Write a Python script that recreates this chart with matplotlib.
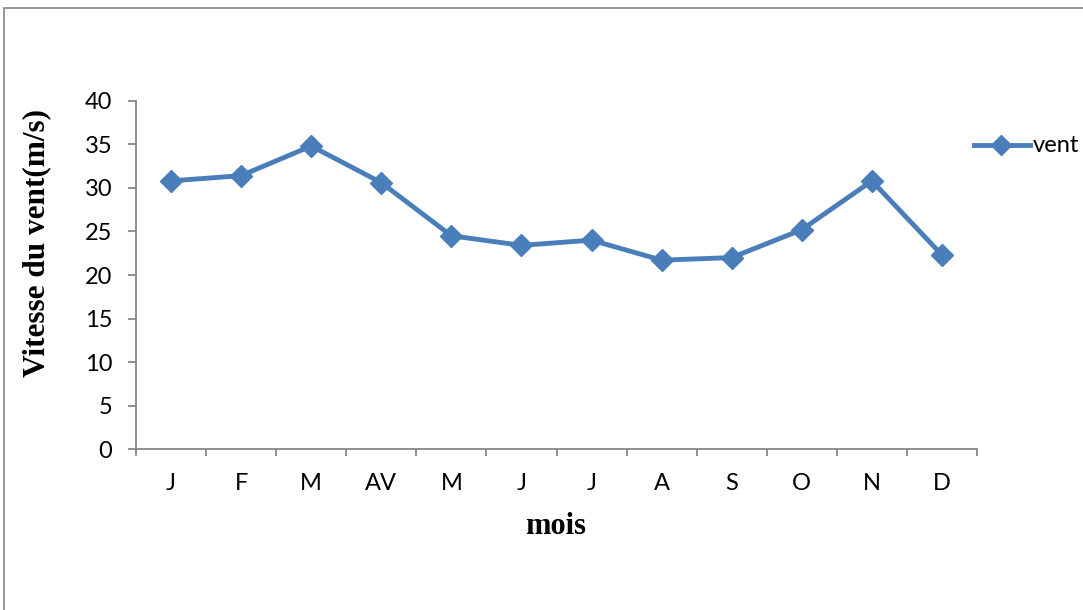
import matplotlib
matplotlib.use("Agg")
import matplotlib.pyplot as plt
from matplotlib.patches import Rectangle
from matplotlib.lines import Line2D

months = ["J", "F", "M", "AV", "M", "J", "J", "A", "S", "O", "N", "D"]
vent = [30.8, 31.4, 34.8, 30.6, 24.5, 23.4, 24.0, 21.7, 22.0, 25.2, 30.8, 22.3]
yticks = [0, 5, 10, 15, 20, 25, 30, 35, 40]

W, H = 1083, 610
fig = plt.figure(figsize=(W / 100, H / 100), dpi=100)
fig.patch.set_facecolor("white")

# outer chart frame
fig.patches.append(Rectangle((4 / W, -0.1), 1.2, 1 - 8 / H + 0.1, transform=fig.transFigure,
                             fill=False, edgecolor="#888888", linewidth=1.2))

ax = fig.add_axes([136 / W, 1 - 449.3 / H, (977 - 136) / W, (449.3 - 100.7) / H])
color = "#4A7EBB"
x = list(range(len(months)))
ax.plot(x, vent, color=color, linewidth=3.5, marker="D", markersize=11,
        markerfacecolor=color, markeredgecolor=color, clip_on=False)

ax.set_xlim(-0.5, len(months) - 0.5)
ax.set_ylim(0, 40)
ax.set_yticks(yticks)
ax.set_xticks([i - 0.5 for i in range(len(months) + 1)], minor=False)
ax.set_xticklabels([])
ax.set_xticks(x, minor=True)
ax.set_xticklabels(months, minor=True, fontfamily="Lato", fontsize=17)
ax.tick_params(axis="x", which="minor", length=0, pad=17)
ax.tick_params(axis="x", which="major", length=5, color="#868686", width=1.3)
ax.tick_params(axis="y", length=5.5, color="#868686", width=1.3, pad=11.5)
for lab in ax.get_yticklabels():
    lab.set_fontfamily("Lato")
    lab.set_fontsize(17)

for s in ["top", "right"]:
    ax.spines[s].set_visible(False)
for s in ["left", "bottom"]:
    ax.spines[s].set_color("#868686")
    ax.spines[s].set_linewidth(1.3)

fig.text(556 / W, 1 - 526 / H, "mois", ha="center", va="center",
         fontfamily="Liberation Serif", fontweight="bold", fontsize=22)
fig.text(37 / W, 1 - 243 / H, "Vitesse du vent(m/s)", ha="center", va="center",
         rotation=90, fontfamily="Liberation Serif", fontweight="bold", fontsize=22.5)

# legend
fig.lines.append(Line2D([974 / W, 1030 / W], [1 - 145 / H, 1 - 145 / H], transform=fig.transFigure,
                        color=color, linewidth=3.5))
fig.lines.append(Line2D([1001 / W], [1 - 145 / H], transform=fig.transFigure, color=color,
                        marker="D", markersize=10, markerfacecolor=color, markeredgecolor=color))
fig.text(1033 / W, 1 - 146 / H, "vent", ha="left", va="center", fontfamily="Lato", fontsize=17)

fig.savefig("out.png", dpi=100)
